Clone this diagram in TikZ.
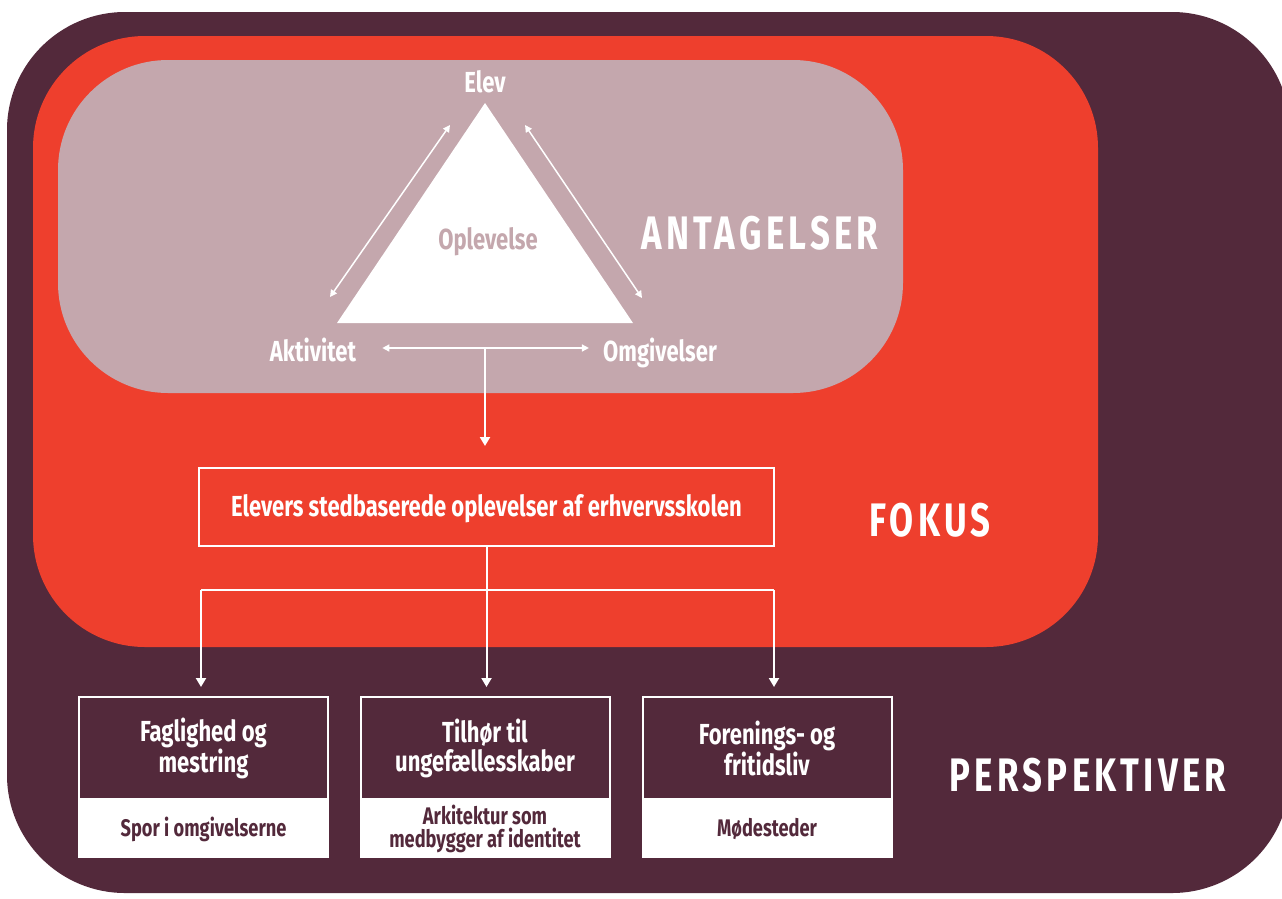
\documentclass[tikz,border=0pt]{standalone}
\usepackage{fontspec}
\usetikzlibrary{arrows.meta,positioning}
\newfontfamily\condfont[FakeStretch=0.76]{Fira Sans}
\newfontfamily\titlefont[FakeStretch=0.74,LetterSpace=9]{Fira Sans}
\definecolor{plum}{HTML}{53293B}
\definecolor{tomato}{HTML}{EE3F2D}
\definecolor{mauve}{HTML}{C4A7AD}
\begin{document}
\begin{tikzpicture}[x=1pt,y=-1pt,
        word/.style={text=white,inner sep=0pt,text height=19pt,text depth=0pt,
            font=\condfont\bfseries\fontsize{29}{30}\selectfont},
        heading/.style={text=white,inner sep=0pt,font=\titlefont\bfseries\fontsize{47}{47}\selectfont},
        boxline/.style={draw=white,line width=2pt},
        topbox/.style={boxline,fill=plum,text=white,minimum width=249pt,minimum height=102pt,
            align=center,font=\condfont\bfseries\fontsize{29}{29}\selectfont},
        footbox/.style={boxline,fill=white,text=plum,minimum width=249pt,minimum height=56pt,
            align=center,font=\condfont\bfseries\fontsize{24}{23}\selectfont},
        flow/.style={white,line width=2pt,-{Triangle[width=10pt,length=9pt]}},
        link/.style={white,line width=1.5pt,{Triangle[width=7pt,length=7pt]}-{Triangle[width=7pt,length=7pt]}}]
        \useasboundingbox (0,0) rectangle (1282,898);
        % Layers
        \fill[plum,rounded corners=118pt] (7,12) rectangle (1290,893);
        \fill[tomato,rounded corners=112pt] (33,36) rectangle (1098,647);
        \fill[mauve,rounded corners=110pt] (58,60) rectangle (903,393);
        % Triangle
        \coordinate (apex) at (485,103);
        \coordinate (west) at (337,323);
        \coordinate (east) at (633,323);
        \fill[white] (apex) -- (west) -- (east) -- cycle;
        \node[word] (elev) at (485,83) {Elev};
        \node[word,text=mauve] (opl) at (488,240) {Oplevelse};
        \node[word] (akt) at (313,352) {Aktivitet};
        \node[word] (omg) at (660,352) {Omgivelser};
        \node[heading] (ant) at (760,233) {ANTAGELSER};
        \coordinate (a1) at (330,297);
        \coordinate (a2) at (450,125);
        \coordinate (b1) at (525,125);
        \coordinate (b2) at (642,298);
        \draw[link] (a1) -- (a2);
        \draw[link] (b1) -- (b2);
        \draw[link] ([xshift=26pt,yshift=4pt]akt.east) -- ([xshift=-14pt,yshift=4pt]omg.west);
        % Focus
        \coordinate (hub) at (485,348);
        \node[word,boxline,minimum width=575pt,minimum height=78pt] (focus) at (486.5,507)
            {Elevers stedbaserede oplevelser af erhvervsskolen};
        \node[heading] (fokus) at (930,520) {FOKUS};
        \draw[flow,shorten >=21pt] (hub) -- (hub |- focus.north);
        % Perspectives
        \node[topbox] (fag) at (203.5,748) {Faglighed og\\mestring};
        \node[footbox,below=0pt of fag] (fag2) {Spor i omgivelserne};
        \node[topbox] (til) at (485,748) {Tilhør til\\ungefællesskaber};
        \node[footbox,below=0pt of til] (til2) {Arkitektur som\\medbygger af identitet};
        \node[topbox] (frt) at (767,748) {Forenings- og\\fritidsliv};
        \node[footbox,below=0pt of frt] (frt2) {Mødesteder};
        \node[heading] (persp) at (1088,775) {PERSPEKTIVER};
        \coordinate (bl) at (201,590);
        \coordinate (br) at (774,590);
        \draw[white,line width=2pt] (bl) -- (br);
        \draw[flow,shorten >=9pt] (focus.south) -- (focus.south |- til.north);
        \draw[flow,shorten >=9pt] (bl) -- (bl |- fag.north);
        \draw[flow,shorten >=9pt] (br) -- (br |- frt.north);
\end{tikzpicture}
\end{document}
